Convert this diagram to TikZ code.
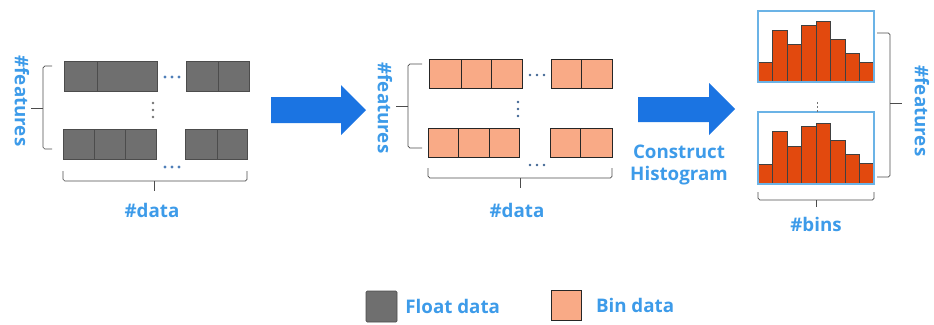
\documentclass[tikz,border=0pt]{standalone}
\usepackage{fontspec}
\setmainfont{Open Sans}
\usetikzlibrary{positioning,arrows.meta,calc}
\definecolor{lblue}{HTML}{3D9BE9}
\definecolor{bigblue}{HTML}{1B74E2}
\definecolor{boxblue}{HTML}{6BB3E6}
\definecolor{floatgray}{HTML}{6F6F6F}
\definecolor{binsalmon}{HTML}{F9AA86}
\definecolor{barred}{HTML}{E2490E}
\definecolor{dotblue}{HTML}{4F7FB8}

\begin{document}
\begin{tikzpicture}[x=0.03cm, y=-0.03cm,
    lbl/.style={text=lblue, font=\bfseries\fontsize{16}{19}\selectfont},
    floatcell/.style={fill=floatgray, draw=black!70, line width=0.5pt},
    bincell/.style={fill=binsalmon, draw=black!85, line width=0.6pt},
    bar/.style={fill=barred, draw=black!75, line width=0.5pt},
    histbox/.style={draw=boxblue, line width=1.2pt},
    bracket/.style={draw=black!70, line width=0.6pt, rounded corners=1.5pt},
    bigarrow/.style={fill=bigblue}]
  \useasboundingbox (0,0) rectangle (934,324);

  % float data
  \draw[floatcell] (64,61) rectangle (157,91);
  \draw[floatcell] (97,61) -- (97,91);
  \draw[floatcell] (186,61) rectangle (249,91);
  \draw[floatcell] (218,61) -- (218,91);
  \draw[floatcell] (63,129) rectangle (156,159);
  \foreach \d in {94,125} \draw[floatcell] (\d,129) -- (\d,159);
  \draw[floatcell] (185,129) rectangle (247,159);
  \draw[floatcell] (217,129) -- (217,159);

  % dots
  \foreach \d in {165,172,179} {
    \fill[dotblue] (\d,77) circle (1.6);
    \fill[dotblue] (\d,167) circle (1.6);
  }
  \foreach \d in {103,110,117} \fill[black!55] (153,\d) circle (1.3);

  % braces
  \draw[bracket] (52,66) -- (43,66) -- (43,149) -- (52,149);
  \draw[bracket] (43,108) -- (31,108);
  \draw[bracket] (63,171) -- (63,181) -- (247,181) -- (247,171);
  \draw[bracket] (154,181) -- (154,191);

  \node[lbl, rotate=-90] (feat1) at (22,101) {\#features};
  \node[lbl] (data1) at (152,210) {\#data};

  % pijl 1
  \fill[bigarrow] (271,97) -- (341,97) -- (341,85) -- (366,110)
    -- (341,135) -- (341,123) -- (271,123) -- cycle;

  % bin data
  \draw[bincell] (429,59) rectangle (522,88);
  \foreach \d in {461,491} \draw[bincell] (\d,59) -- (\d,88);
  \draw[bincell] (551,59) rectangle (612,88);
  \draw[bincell] (581,59) -- (581,88);
  \draw[bincell] (428,128) rectangle (519,157);
  \foreach \d in {458,489} \draw[bincell] (\d,128) -- (\d,157);
  \draw[bincell] (550,128) rectangle (612,157);
  \draw[bincell] (580,128) -- (580,157);

  \foreach \d in {530,537,544} {
    \fill[dotblue!80!black] (\d,75) circle (1.4);
    \fill[dotblue!80!black] (\d,165) circle (1.4);
  }
  \foreach \d in {102,109,116} \fill[dotblue!80!black] (518,\d) circle (1.4);

  \draw[bracket] (422,64) -- (408,64) -- (408,148) -- (422,148);
  \draw[bracket] (408,106) -- (396,106);
  \draw[bracket] (428,168) -- (428,178) -- (612,178) -- (612,168);
  \draw[bracket] (520,178) -- (520,188);

  \node[lbl, rotate=-90] (feat2) at (385,108) {\#features};
  \node[lbl] (data2) at (517,210) {\#data};

  % pijl 2
  \fill[bigarrow] (638,97) -- (709,97) -- (709,83) -- (735,109)
    -- (709,135) -- (709,122) -- (638,122) -- cycle;
  \node[lbl, align=center] (hist) at (679,165) {Construct\\Histogram};

  % histogrammen
  \foreach \h [count=\i from 0] in {20,52,38,57,61,43,29,20}
    \draw[bar] (758+\i*14.5,82) rectangle ++(14.5,-\h);
  \draw[histbox] (758,11) rectangle (874,82);
  \foreach \h [count=\i from 0] in {20,53,38,58,61,44,30,21}
    \draw[bar] (758+\i*14.5,184) rectangle ++(14.5,-\h);
  \draw[histbox] (758,112) rectangle (874,184);
  \draw[black!55, line width=0.6pt, dash pattern=on 2pt off 1.5pt] (817,102) -- (817,112);

  \draw[bracket] (877,33) -- (890,33) -- (890,177) -- (877,177);
  \draw[bracket] (890,103) -- (902,103);
  \draw[bracket] (758,192) -- (758,200) -- (874,200) -- (874,192);
  \draw[bracket] (816,200) -- (816,207);

  \node[lbl, rotate=-90] (feat3) at (922,111) {\#features};
  \node[lbl] (bins) at (816,224) {\#bins};

  % legenda
  \node[floatcell, rounded corners=1pt, minimum size=0.93cm, inner sep=0pt] (fsq) at (381.5,306.5) {};
  \node[lbl, right=0.12cm of fsq] (ftxt) {Float data};
  \node[bincell, minimum size=0.9cm, inner sep=0pt] (bsq) at (566.5,305) {};
  \node[lbl, right=0.3cm of bsq] (btxt) {Bin data};
\end{tikzpicture}
\end{document}
